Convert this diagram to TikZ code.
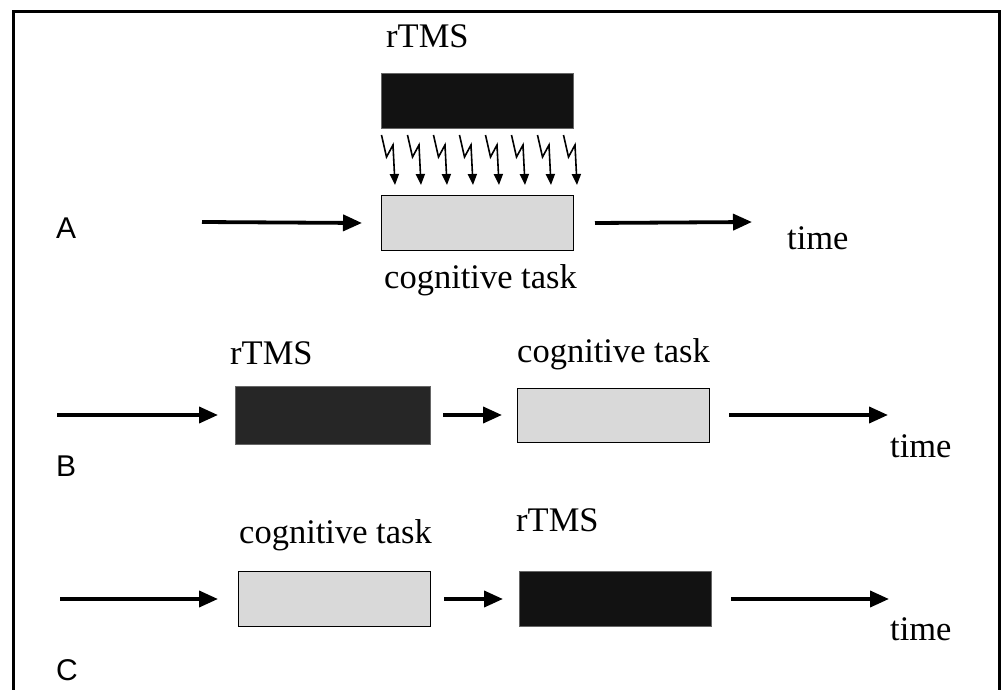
\documentclass[tikz,border=0pt]{standalone}
\usepackage{fontspec}
\setmainfont{Liberation Serif}
\newfontfamily\labelfont{Liberation Sans}
\usetikzlibrary{arrows.meta}
\definecolor{taskgray}{HTML}{D9D9D9}
\definecolor{tmsblack}{HTML}{121212}
\definecolor{tmsdark}{HTML}{262626}
\begin{document}
\begin{tikzpicture}[x=1pt,y=-1pt,
  txt/.style={inner sep=0pt,anchor=base west,font=\fontsize{34.5}{40}\selectfont},
  rowlabel/.style={inner sep=0pt,anchor=base west,font=\labelfont\fontsize{30}{34}\selectfont},
  taskbox/.style={draw=black,line width=1pt,fill=taskgray,minimum width=192pt,minimum height=55pt,inner sep=0pt},
  tmsbox/.style={draw=black!60,line width=0.6pt,fill=tmsblack,minimum width=192pt,minimum height=55pt,inner sep=0pt},
  flow/.style={line width=3.8pt,-{Triangle[length=19pt,width=16pt]}},
  bolt/.style={line width=1.6pt,line join=miter,-{Triangle[length=11pt,width=9pt]}}]
\useasboundingbox (0,0) rectangle (1005,690);
% open frame
\draw[line width=3pt] (13,690) -- (13,11.5) -- (999,11.5) -- (999,690);

% ---- A: rTMS during the task
\node[tmsbox,anchor=north west] (tmsA) at (381,73) {};
\node[taskbox,anchor=north west] (taskA) at (381,195) {};
\node[txt] (tmsAl) at (386,48) {rTMS};
\node[txt] (taskAl) at (384,288) {cognitive task};
\node[rowlabel] (lA) at (56,239) {A};
\node[txt] (timeA) at (787,250) {time};
\coordinate (inA) at (202,222);
\coordinate (outA) at (752,222);
\draw[flow] (inA) -- (taskA.west -| 362,0);
\draw[flow] (taskA.east -| 595,0) -- (outA);
% pulses
\foreach \i in {0,...,7}{
  \coordinate (p\i) at ({381.5+26*\i},135);
  \draw[bolt] (p\i) -- ++(5,22) -- ++(6.5,-12) -- ++(2,40);
}

% ---- B: rTMS before the task
\node[tmsbox,fill=tmsdark,minimum width=195pt,minimum height=58pt] (tmsB) at (332.5,415) {};
\node[taskbox,minimum height=54pt] (taskB) at (613,415) {};
\node[txt] (tmsBl) at (230,364) {rTMS};
\node[txt] (taskBl) at (517,362) {cognitive task};
\node[rowlabel] (lB) at (56,476) {B};
\node[txt] (timeB) at (890,457) {time};
\coordinate (inB) at (57,415);
\coordinate (outB) at (888,415);
\draw[flow] (inB) -- (tmsB.west -| 218,0);
\draw[flow] (tmsB.east -| 443,0) -- (taskB.west -| 502,0);
\draw[flow] (taskB.east -| 729,0) -- (outB);

% ---- C: rTMS after the task
\node[taskbox] (taskC) at (334.5,599) {};
\node[tmsbox] (tmsC) at (615,599) {};
\node[txt] (taskCl) at (239,543) {cognitive task};
\node[txt] (tmsCl) at (516,531) {rTMS};
\node[rowlabel] (lC) at (56,680) {C};
\node[txt] (timeC) at (890,640) {time};
\coordinate (inC) at (60,599);
\coordinate (outC) at (889,599);
\draw[flow] (inC) -- (taskC.west -| 218,0);
\draw[flow] (taskC.east -| 444,0) -- (tmsC.west -| 503,0);
\draw[flow] (tmsC.east -| 731,0) -- (outC);
\end{tikzpicture}
\end{document}
